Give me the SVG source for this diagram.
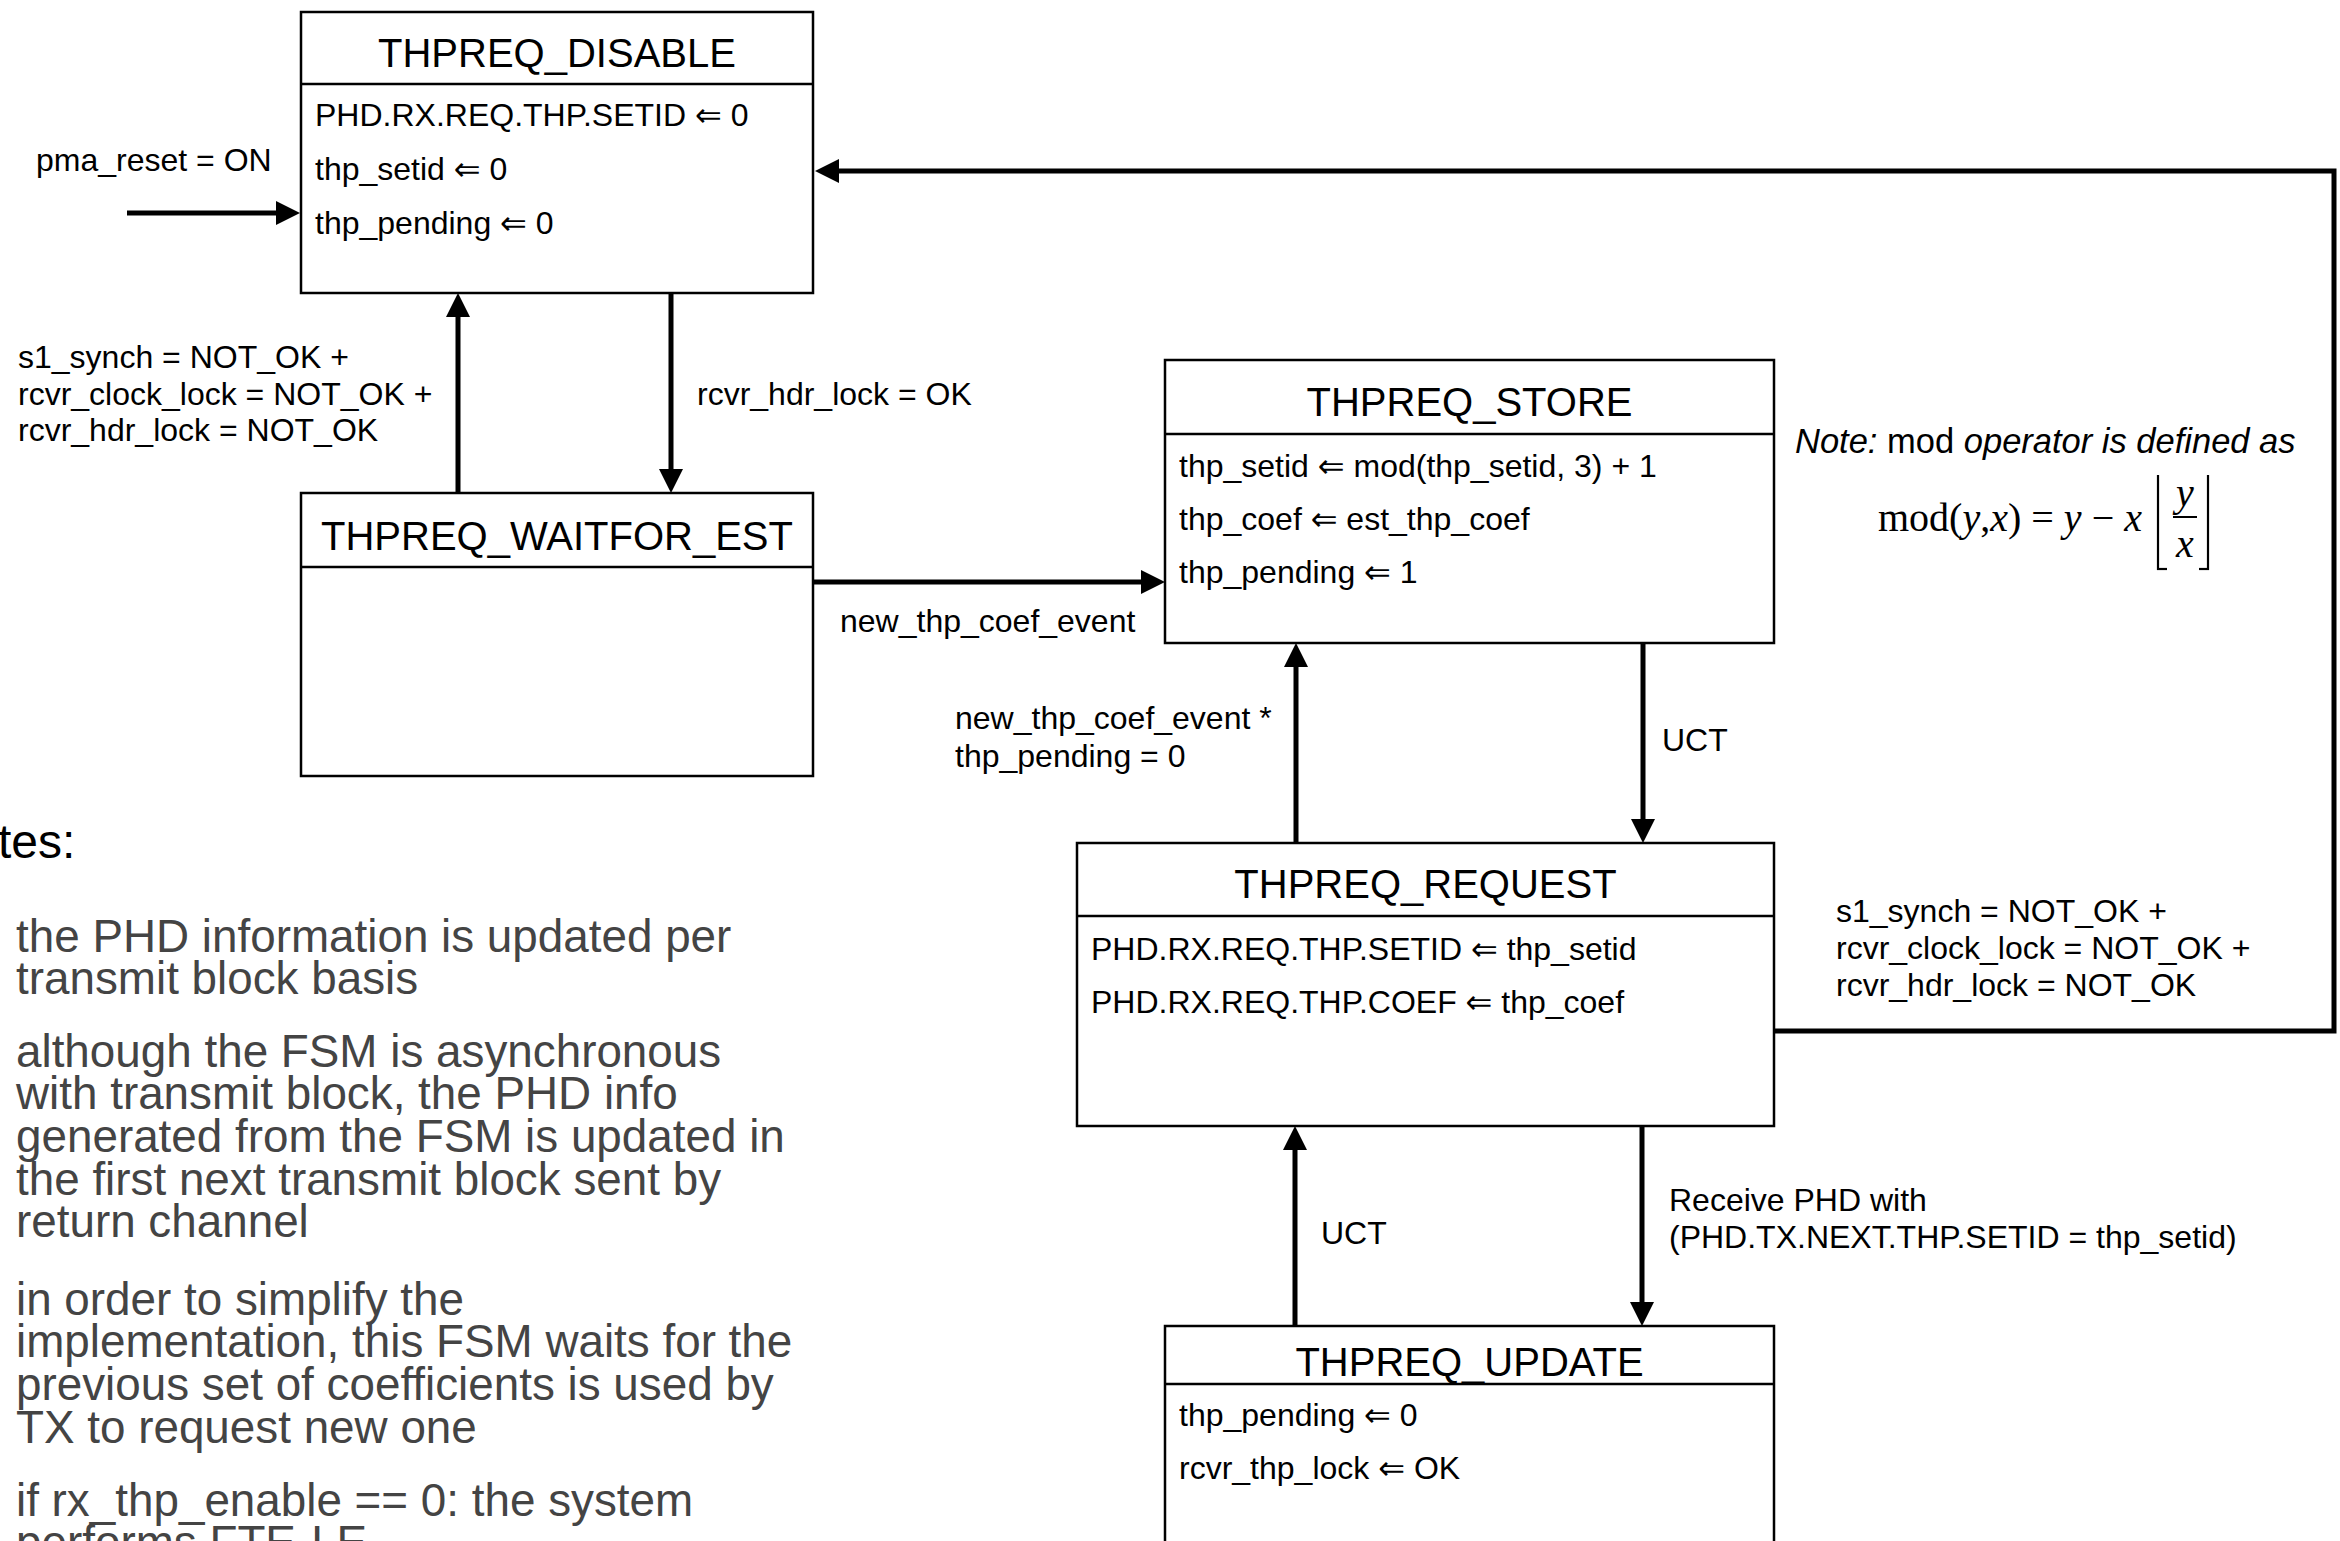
<svg xmlns="http://www.w3.org/2000/svg" width="2340" height="1541" viewBox="0 0 2340 1541">
<style>
.box{fill:#fff;stroke:#000;stroke-width:2.5}
.sep{stroke:#000;stroke-width:2.5}
.title{font-family:"Liberation Sans",Arial,sans-serif;font-size:40px;fill:#000;text-anchor:middle}
.body{font-family:"Liberation Sans",Arial,"DejaVu Sans",sans-serif;font-size:32px;fill:#000}
.lbl{font-family:"Liberation Sans",Arial,"DejaVu Sans",sans-serif;font-size:32px;fill:#000}
.note{font-family:"Liberation Sans",Arial,sans-serif;font-size:45.8px;fill:#444}
.conn{fill:none;stroke:#000;stroke-width:5}
.math{font-family:"Liberation Serif","Times New Roman",serif;font-size:40px;fill:#000}
</style>
<defs>
<marker id="ah" viewBox="0 0 24 24" markerWidth="24" markerHeight="24" refX="0" refY="12" orient="auto" markerUnits="userSpaceOnUse">
<path d="M0,0 L24,12 L0,24 z" fill="#000"/>
</marker>
</defs>
<rect width="2340" height="1541" fill="#fff"/>

<g id="connectors">
<line class="conn" x1="127" y1="213" x2="276" y2="213" marker-end="url(#ah)"/>
<line class="conn" x1="458" y1="493" x2="458" y2="317" marker-end="url(#ah)"/>
<line class="conn" x1="671" y1="293" x2="671" y2="469" marker-end="url(#ah)"/>
<line class="conn" x1="813" y1="582" x2="1141" y2="582" marker-end="url(#ah)"/>
<line class="conn" x1="1643" y1="643" x2="1643" y2="819" marker-end="url(#ah)"/>
<line class="conn" x1="1296" y1="843" x2="1296" y2="667" marker-end="url(#ah)"/>
<line class="conn" x1="1642" y1="1126" x2="1642" y2="1302" marker-end="url(#ah)"/>
<line class="conn" x1="1295" y1="1326" x2="1295" y2="1150" marker-end="url(#ah)"/>
<polyline class="conn" points="1774,1031 2334,1031 2334,171 839,171" marker-end="url(#ah)"/>
</g>

<g id="labels">
<text class="lbl" x="36" y="171">pma_reset = ON</text>
<text class="lbl" x="18" y="368">s1_synch = NOT_OK +</text>
<text class="lbl" x="18" y="405">rcvr_clock_lock = NOT_OK +</text>
<text class="lbl" x="18" y="441">rcvr_hdr_lock = NOT_OK</text>
<text class="lbl" x="697" y="405">rcvr_hdr_lock = OK</text>
<text class="lbl" x="840" y="632">new_thp_coef_event</text>
<text class="lbl" x="955" y="729">new_thp_coef_event *</text>
<text class="lbl" x="955" y="767">thp_pending = 0</text>
<text class="lbl" x="1662" y="751">UCT</text>
<text class="lbl" x="1836" y="922">s1_synch = NOT_OK +</text>
<text class="lbl" x="1836" y="959">rcvr_clock_lock = NOT_OK +</text>
<text class="lbl" x="1836" y="996">rcvr_hdr_lock = NOT_OK</text>
<text class="lbl" x="1321" y="1244">UCT</text>
<text class="lbl" x="1669" y="1211">Receive PHD with</text>
<text class="lbl" x="1669" y="1248">(PHD.TX.NEXT.THP.SETID = thp_setid)</text>
</g>

<g id="mod-note">
<text class="lbl" x="1795" y="453" style="font-size:34.5px"><tspan font-style="italic">Note:</tspan> mod <tspan font-style="italic">operator is defined as</tspan></text>
<text class="math" x="1878" y="531">mod(<tspan font-style="italic">y</tspan>,<tspan font-style="italic">x</tspan>) = <tspan font-style="italic">y</tspan> − <tspan font-style="italic">x</tspan></text>
<line x1="2158" y1="475" x2="2158" y2="570" stroke="#000" stroke-width="2.2"/>
<line x1="2157" y1="569" x2="2167" y2="569" stroke="#000" stroke-width="2.2"/>
<line x1="2208" y1="475" x2="2208" y2="570" stroke="#000" stroke-width="2.2"/>
<line x1="2199" y1="569" x2="2209" y2="569" stroke="#000" stroke-width="2.2"/>
<text class="math" x="2185" y="506" text-anchor="middle" font-style="italic">y</text>
<line x1="2173" y1="517" x2="2197" y2="517" stroke="#000" stroke-width="2"/>
<text class="math" x="2185" y="557" text-anchor="middle" font-style="italic">x</text>
</g>

<g id="node-disable">
<rect class="box" x="301" y="12" width="512" height="281"/>
<line class="sep" x1="301" y1="84" x2="813" y2="84"/>
<text class="title" x="557" y="67">THPREQ_DISABLE</text>
<text class="body" x="315" y="126">PHD.RX.REQ.THP.SETID ⇐ 0</text>
<text class="body" x="315" y="180">thp_setid ⇐ 0</text>
<text class="body" x="315" y="234">thp_pending ⇐ 0</text>
</g>

<g id="node-waitfor-est">
<rect class="box" x="301" y="493" width="512" height="283"/>
<line class="sep" x1="301" y1="567" x2="813" y2="567"/>
<text class="title" x="557" y="550">THPREQ_WAITFOR_EST</text>
</g>

<g id="node-store">
<rect class="box" x="1165" y="360" width="609" height="283"/>
<line class="sep" x1="1165" y1="434" x2="1774" y2="434"/>
<text class="title" x="1469.5" y="416">THPREQ_STORE</text>
<text class="body" x="1179" y="477">thp_setid ⇐ mod(thp_setid, 3) + 1</text>
<text class="body" x="1179" y="530">thp_coef ⇐ est_thp_coef</text>
<text class="body" x="1179" y="583">thp_pending ⇐ 1</text>
</g>

<g id="node-request">
<rect class="box" x="1077" y="843" width="697" height="283"/>
<line class="sep" x1="1077" y1="916" x2="1774" y2="916"/>
<text class="title" x="1425.5" y="898">THPREQ_REQUEST</text>
<text class="body" x="1091" y="960">PHD.RX.REQ.THP.SETID ⇐ thp_setid</text>
<text class="body" x="1091" y="1013">PHD.RX.REQ.THP.COEF ⇐ thp_coef</text>
</g>

<g id="node-update">
<rect class="box" x="1165" y="1326" width="609" height="260"/>
<line class="sep" x1="1165" y1="1384" x2="1774" y2="1384"/>
<text class="title" x="1469.5" y="1376">THPREQ_UPDATE</text>
<text class="body" x="1179" y="1426">thp_pending ⇐ 0</text>
<text class="body" x="1179" y="1479">rcvr_thp_lock ⇐ OK</text>
</g>

<g id="notes">
<text x="-2" y="858" style="font-family:'Liberation Sans',Arial,sans-serif;font-size:48px;fill:#000">tes:</text>
<text class="note" x="16" y="952">the PHD information is updated per</text>
<text class="note" x="16" y="994">transmit block basis</text>
<text class="note" x="16" y="1067">although the FSM is asynchronous</text>
<text class="note" x="16" y="1109">with transmit block, the PHD info</text>
<text class="note" x="16" y="1152">generated from the FSM is updated in</text>
<text class="note" x="16" y="1195">the first next transmit block sent by</text>
<text class="note" x="16" y="1237">return channel</text>
<text class="note" x="16" y="1315">in order to simplify the</text>
<text class="note" x="16" y="1357">implementation, this FSM waits for the</text>
<text class="note" x="16" y="1400">previous set of coefficients is used by</text>
<text class="note" x="16" y="1443">TX to request new one</text>
<text class="note" x="16" y="1516">if rx_thp_enable == 0: the system</text>
<text class="note" x="16" y="1558">performs FTE-LE</text>
</g>
</svg>
